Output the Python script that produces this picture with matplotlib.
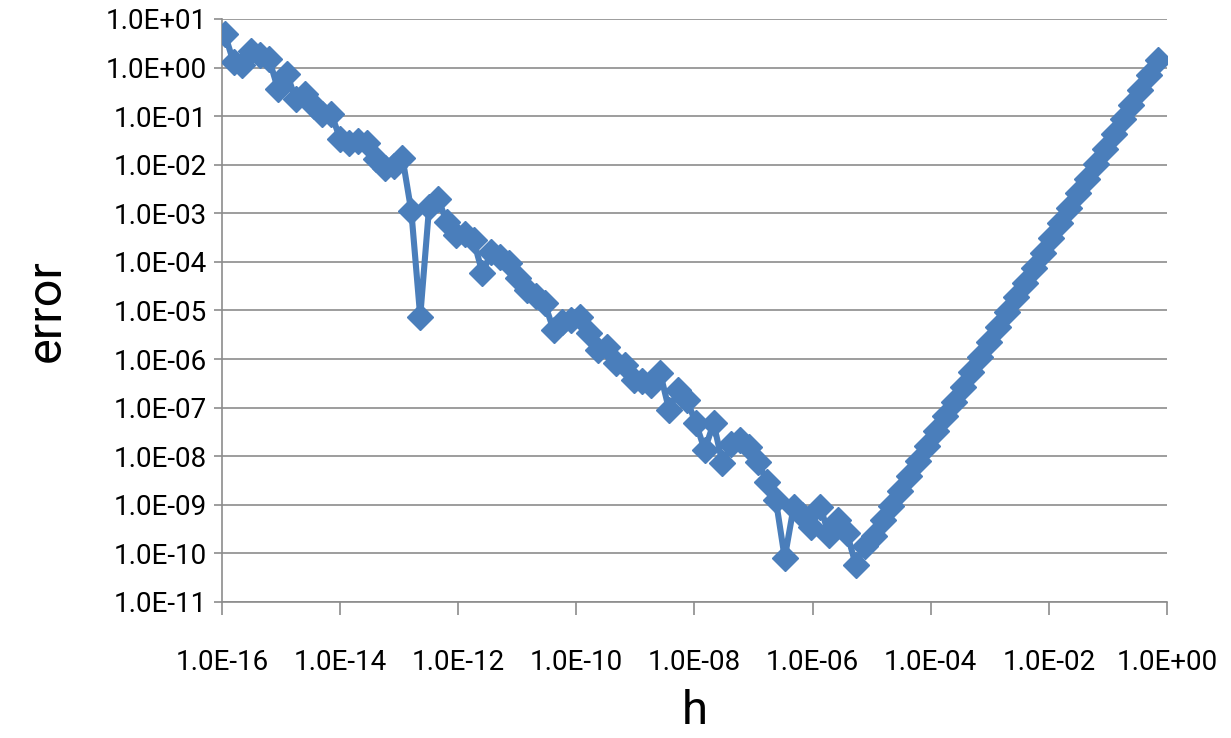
import numpy as np
import matplotlib

matplotlib.use("Agg")
import matplotlib.pyplot as plt

# step sizes h = 2^(-k/2), k = 106 ... 1 (smallest h first)
half_steps = np.arange(106, 0, -1)
h = 2.0 ** (-half_steps / 2.0)

# error, same order as h
error = [
    5.0, 1.3, 1.15, 2.2, 1.8, 1.5, 0.36, 0.75, 0.22, 0.29,
    0.16, 0.11, 0.11, 0.034, 0.028, 0.031, 0.028, 0.013, 0.0085, 0.0095,
    0.014, 1.1e-3, 7.5e-6, 1.35e-3, 2.0e-3, 6.6e-4, 3.5e-4, 3.7e-4, 2.8e-4, 5.9e-5,
    1.6e-4, 1.25e-4, 9.5e-5, 4.7e-5, 2.6e-5, 2.0e-5, 1.4e-5, 4.0e-6, 5.8e-6, 6.3e-6,
    7.2e-6, 3.4e-6, 1.55e-6, 1.8e-6, 8.3e-7, 7.6e-7, 3.7e-7, 3.5e-7, 2.95e-7, 5.1e-7,
    8.9e-8, 2.3e-7, 1.45e-7, 4.8e-8, 1.35e-8, 4.8e-8, 7.2e-9, 1.8e-8, 2.15e-8, 1.55e-8,
    7.6e-9, 2.95e-9, 1.26e-9, 8.1e-11, 8.9e-10, 6.2e-10, 3.5e-10, 8.9e-10, 2.4e-10, 4.9e-10,
    2.6e-10, 5.8e-11, 1.4e-10, 2.3e-10, 4.8e-10, 9.6e-10, 1.9e-9, 4.0e-9, 7.9e-9, 1.6e-8,
    3.3e-8, 6.6e-8, 1.3e-7, 2.7e-7, 5.5e-7, 1.1e-6, 2.2e-6, 4.5e-6, 9.1e-6, 1.9e-5,
    3.7e-5, 7.6e-5, 1.5e-4, 3.1e-4, 6.3e-4, 1.3e-3, 2.6e-3, 5.2e-3, 1.05e-2, 2.1e-2,
    4.3e-2, 8.7e-2, 0.17, 0.35, 0.71, 1.45,
]

x_ticks = [10.0 ** e for e in range(-16, 1, 2)]
y_ticks = [10.0 ** e for e in range(-11, 2)]

BLUE = "#4A7EBB"
GRID = "#8C8C8C"

plt.rcParams["font.family"] = ["Roboto", "DejaVu Sans"]

fig = plt.figure(figsize=(12.31, 7.38), dpi=100)
ax = fig.add_axes([0.1803, 0.1843, 0.948 - 0.1803, 0.9743 - 0.1843])

ax.plot(h, error, color=BLUE, linewidth=4.4, marker="D", markersize=13,
        markerfacecolor=BLUE, markeredgecolor=BLUE, zorder=3)

ax.set_xscale("log")
ax.set_yscale("log")
ax.set_xlim(1e-16, 1e0)
ax.set_ylim(1e-11, 1e1)

ax.set_xticks(x_ticks)
ax.set_xticklabels([f"{v:.1E}" for v in x_ticks])
ax.set_yticks(y_ticks)
ax.set_yticklabels([f"{v:.1E}" for v in y_ticks])
ax.minorticks_off()

ax.yaxis.grid(True, color=GRID, linewidth=1.2)
ax.xaxis.grid(False)
ax.set_axisbelow(True)

for side in ("top", "right"):
    ax.spines[side].set_visible(False)
for side in ("left", "bottom"):
    ax.spines[side].set_color(GRID)
    ax.spines[side].set_linewidth(1.2)

ax.tick_params(axis="x", direction="out", length=9, width=1.2, color=GRID,
               pad=25, labelsize=20, labelcolor="#000000")
ax.tick_params(axis="y", direction="out", length=6, width=1.2, color=GRID,
               pad=5, labelsize=20, labelcolor="#000000")

ax.set_xlabel("h", fontsize=34, labelpad=9)
ax.set_ylabel("error", fontsize=35, labelpad=26)

fig.savefig("out.png", dpi=100)
plt.close(fig)
